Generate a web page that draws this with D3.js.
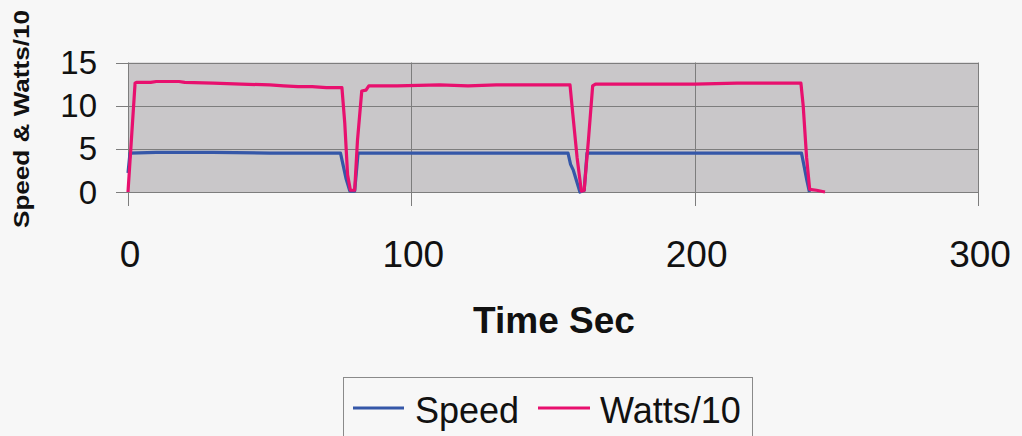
<!DOCTYPE html>
<html>
<head>
<meta charset="utf-8">
<script src="https://cdn.jsdelivr.net/npm/d3@7"></script>
<style>
  html, body { margin: 0; padding: 0; background: #f7f7f7; }
  svg { display: block; }
  text { font-family: "Liberation Sans", Arial, sans-serif; fill: #111; }
</style>
</head>
<body>
<svg id="chart" width="1022" height="436"></svg>
<script>
// ---- data ----
const xTicks = [0, 100, 200, 300];
const yTicks = [0, 5, 10, 15];

const speedTime   = [0, 0.7, 10, 30, 50, 75, 76, 77, 78.3, 80, 81.2, 100, 130, 155.3, 156.2, 157.2, 159.5, 161, 162, 200, 237.7, 238.5, 239.5, 240.5];
const speedValues = [2.2, 4.5, 4.6, 4.6, 4.5, 4.5, 3.0, 1.5, 0.1, 0.1, 4.5, 4.5, 4.5, 4.5, 3.2, 2.5, 0, 0.2, 4.5, 4.5, 4.5, 3.2, 1.5, 0];

const wattsTime   = [0, 2.5, 3, 8, 10, 14, 18, 20, 30, 40, 50, 55, 60, 65, 70, 75.5, 76.5, 77.5, 78.5, 80, 81, 82.5, 84, 85, 95, 110, 120, 130, 140, 150, 156, 157, 158.5, 160, 161, 162.5, 164, 165, 175, 190, 200, 215, 225, 237.5, 238.3, 239.5, 240.6, 243, 246];
const wattsValues = [0, 12.6, 12.7, 12.7, 12.8, 12.8, 12.8, 12.7, 12.6, 12.5, 12.4, 12.3, 12.2, 12.2, 12.1, 12.1, 8.0, 2.0, 0.2, 0.2, 6.0, 11.7, 11.8, 12.3, 12.3, 12.4, 12.3, 12.4, 12.4, 12.4, 12.4, 9.0, 4.0, 0.1, 0.2, 6.0, 12.3, 12.5, 12.5, 12.5, 12.5, 12.6, 12.6, 12.6, 10.0, 4.0, 0.3, 0.2, 0];

const seriesNames = ["Speed", "Watts/10"];
const seriesColors = ["#3557a8", "#e8106e"];

// ---- layout ----
const svg = d3.select("#chart");
const plot = { left: 128, right: 978, top: 62.5, bottom: 192 };

const x = d3.scaleLinear().domain([0, 300]).range([plot.left, plot.right]);
const y = d3.scaleLinear().domain([0, 15]).range([plot.bottom, plot.top]);

// plot background
svg.append("rect")
  .attr("x", plot.left).attr("y", plot.top)
  .attr("width", plot.right - plot.left).attr("height", plot.bottom - plot.top)
  .attr("fill", "#c9c7c9");

// horizontal gridlines + y ticks
svg.append("g").selectAll("line").data(yTicks).join("line")
  .attr("x1", 116).attr("x2", plot.right)
  .attr("y1", d => Math.round(y(d)) + 0.5).attr("y2", d => Math.round(y(d)) + 0.5)
  .attr("stroke", "#7d7d7d").attr("stroke-width", 1);

// vertical gridlines + x ticks
svg.append("g").selectAll("line").data(xTicks).join("line")
  .attr("x1", d => Math.round(x(d)) + 0.5).attr("x2", d => Math.round(x(d)) + 0.5)
  .attr("y1", plot.top).attr("y2", 206)
  .attr("stroke", "#7d7d7d").attr("stroke-width", 1);

// y tick labels
svg.append("g").selectAll("text").data(yTicks).join("text")
  .attr("x", 97).attr("y", d => y(d) + 11.5)
  .attr("text-anchor", "end")
  .attr("font-size", 33)
  .text(d => d);

// x tick labels
svg.append("g").selectAll("text").data(xTicks).join("text")
  .attr("x", d => x(d) + 2).attr("y", 267)
  .attr("text-anchor", "middle")
  .attr("font-size", 37)
  .text(d => d);

// axis titles
svg.append("text")
  .attr("x", 554).attr("y", 333)
  .attr("text-anchor", "middle")
  .attr("font-size", 37).attr("font-weight", "bold")
  .text("Time Sec");

svg.append("text")
  .attr("transform", "translate(29,119) rotate(-90)")
  .attr("text-anchor", "middle")
  .attr("font-size", 22).attr("font-weight", "bold")
  .attr("textLength", 218).attr("lengthAdjust", "spacingAndGlyphs")
  .text("Speed & Watts/10");

// lines
const line = d3.line().x(d => x(d[0])).y(d => y(d[1]));
const speedData = speedTime.map((t, i) => [t, speedValues[i]]);
const wattsData = wattsTime.map((t, i) => [t, wattsValues[i]]);

svg.append("path").datum(speedData)
  .attr("d", line).attr("fill", "none")
  .attr("stroke", seriesColors[0]).attr("stroke-width", 3.2)
  .attr("stroke-linejoin", "round");

svg.append("path").datum(wattsData)
  .attr("d", line).attr("fill", "none")
  .attr("stroke", seriesColors[1]).attr("stroke-width", 3.2)
  .attr("stroke-linejoin", "round");

// legend
const lg = svg.append("g");
lg.append("rect")
  .attr("x", 343.5).attr("y", 377.5).attr("width", 409).attr("height", 80)
  .attr("fill", "#f7f7f7").attr("stroke", "#8a8a8a").attr("stroke-width", 1);

const legendItems = [
  { lx1: 353, lx2: 404, tx: 415 },
  { lx1: 538, lx2: 590, tx: 600 }
];
legendItems.forEach((it, i) => {
  lg.append("line")
    .attr("x1", it.lx1).attr("x2", it.lx2).attr("y1", 408).attr("y2", 408)
    .attr("stroke", seriesColors[i]).attr("stroke-width", 3.2);
  lg.append("text")
    .attr("x", it.tx).attr("y", 423)
    .attr("font-size", 36)
    .text(seriesNames[i]);
});
</script>
</body>
</html>
